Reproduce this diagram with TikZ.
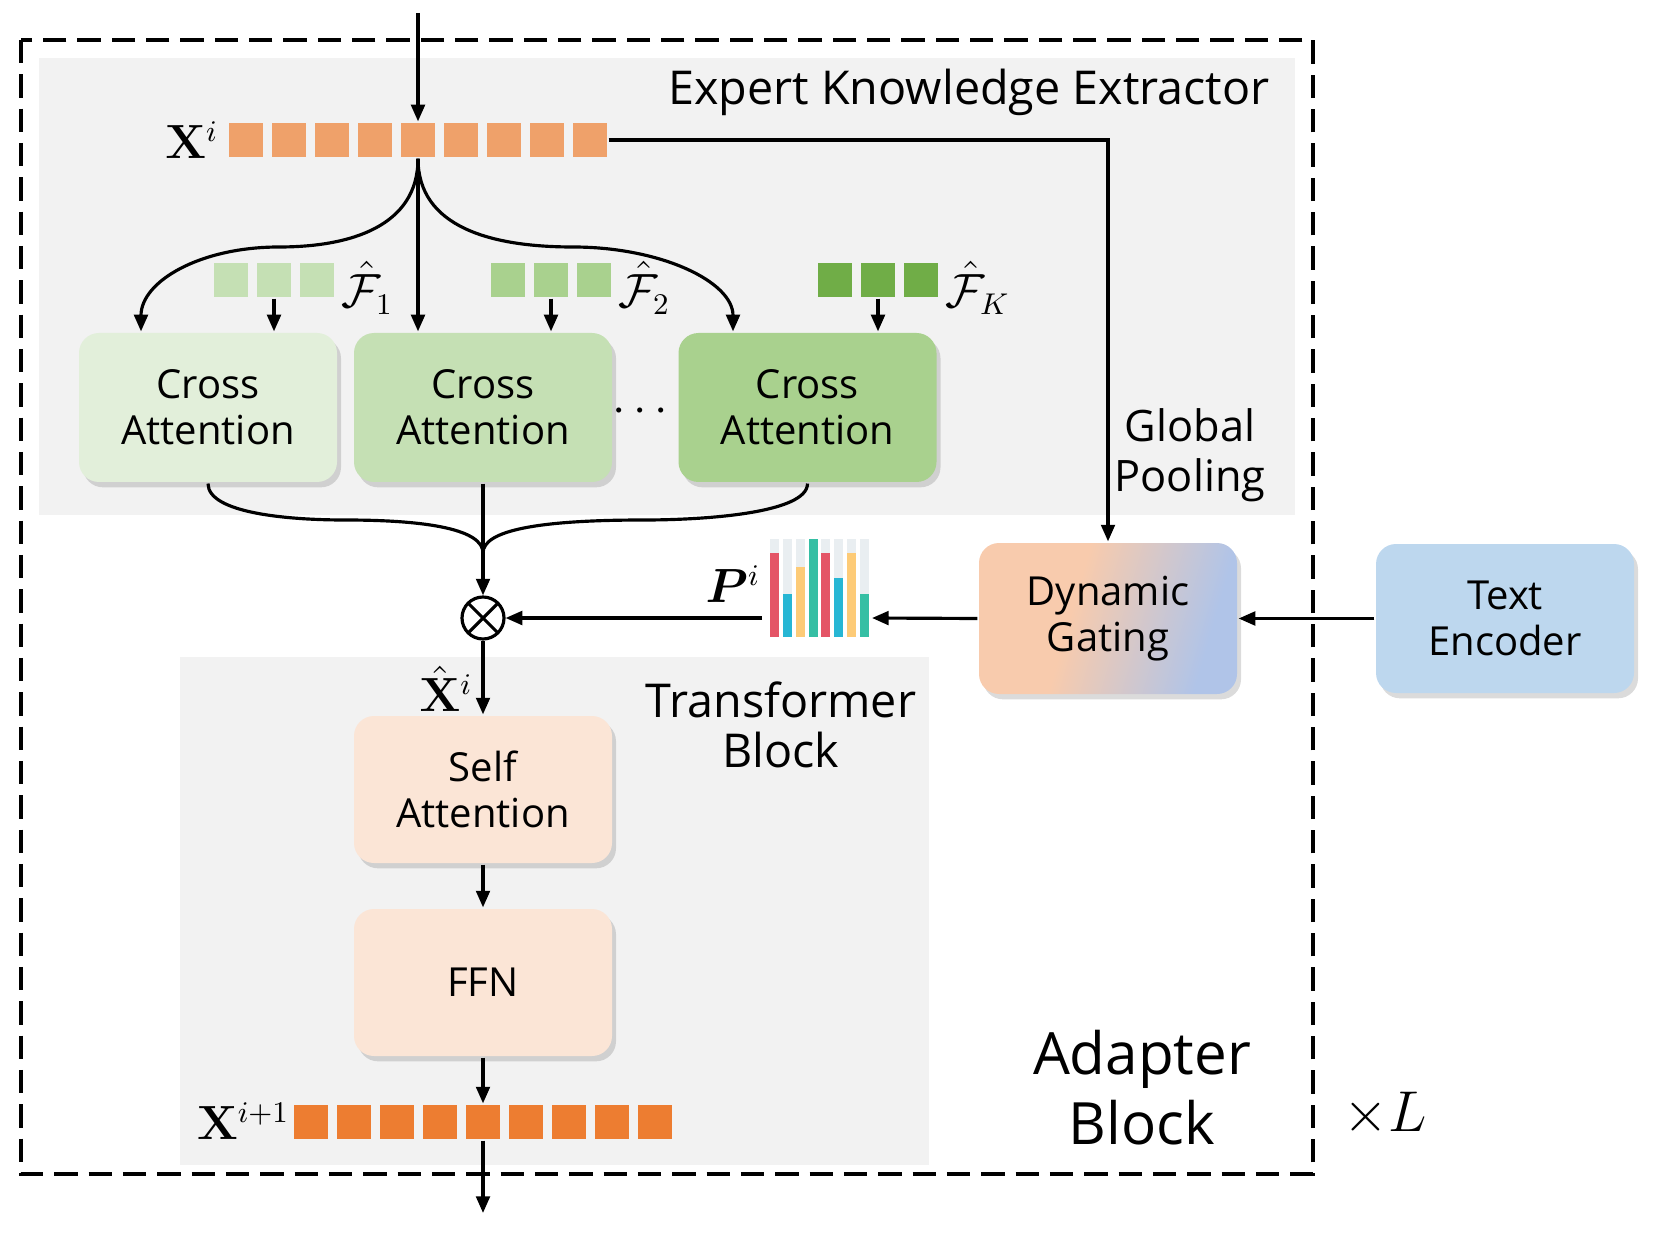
\documentclass[tikz,border=0pt]{standalone}
\usepackage[no-math]{fontspec}
\setmainfont{Open Sans}
\usepackage{amsmath,bm}
\usetikzlibrary{arrows.meta,shadows,calc}
\definecolor{bgg}{HTML}{F2F2F2}
\definecolor{caA}{HTML}{E2EFDA}
\definecolor{caB}{HTML}{C5E0B4}
\definecolor{caC}{HTML}{A9D18E}
\definecolor{fK}{HTML}{70AD47}
\definecolor{peach}{HTML}{FBE5D6}
\definecolor{teb}{HTML}{BDD7EE}
\definecolor{dgor}{HTML}{F8CBAD}
\definecolor{dgbl}{HTML}{B0C4E8}
\definecolor{xlt}{HTML}{EFA16A}
\definecolor{xdk}{HTML}{ED7D31}
\definecolor{bred}{HTML}{E45466}
\definecolor{bblu}{HTML}{27B6D4}
\definecolor{byel}{HTML}{FDCB77}
\definecolor{btea}{HTML}{35BFA4}
\definecolor{bgry}{HTML}{E9EEF1}
\pgfdeclarehorizontalshading{dgshade}{100bp}{color(0bp)=(dgor); color(42bp)=(dgor); color(72bp)=(dgbl); color(100bp)=(dgbl)}
\tikzset{
  arr/.style={-{Triangle[length=5pt,width=4.1pt]}},
  boxsty/.style={rounded corners=6pt, minimum width=77.4pt, minimum height=44.7pt, align=center, inner sep=0pt,
     font=\fontsize{12}{13.8}\selectfont,
     drop shadow={shadow xshift=1.2pt, shadow yshift=-1.6pt, opacity=0.2, fill=black!70}},
  sq/.style={minimum width=10.2pt, minimum height=10.2pt, inner sep=0pt, draw=none},
  lbl/.style={font=\fontsize{13}{15}\selectfont, align=center},
  mlbl/.style={font=\fontsize{13.5}{13.5}\selectfont, inner sep=0pt},
}
\begin{document}
\begin{tikzpicture}[x=0.3pt, y=-0.3pt, line width=0.95pt]
\useasboundingbox (0,0) rectangle (1661,1241);
% backgrounds
\fill[bgg] (39,58) rectangle (1295,515);
\fill[bgg] (180,657) rectangle (929,1165);
\draw[line width=1pt, dash pattern=on 7pt off 3.3pt] (21,40) rectangle (1313,1174);

% titles
\node[lbl, font=\fontsize{14}{15}\selectfont] (eke) at (969,92) {Expert Knowledge Extractor};
\node[lbl] (gp) at (1190,455) {Global\\Pooling};
\node[lbl, font=\fontsize{14}{15}\selectfont] (tb) at (781,725) {Transformer\\Block};
\node[font=\fontsize{17.5}{21}\selectfont, align=center] (ab) at (1142,1088) {Adapter\\Block};
\node[font=\fontsize{16}{16}\selectfont] (xl) at (1385,1114) {$\times L$};

% X^i row
\foreach \k in {0,...,8} \node[sq, fill=xlt] (x\k) at (246+43*\k,140) {};
\node[mlbl, anchor=east] (xil) at (220,140) {$\mathbf{X}^{i}$};
\coordinate (top) at (418,13);
\draw[arr] (top) -- (x4.north);

% cross attention boxes
\node[boxsty, fill=caA] (ca1) at (208,407.5) {Cross\\Attention};
\node[boxsty, fill=caB] (ca2) at (483,407.5) {Cross\\Attention};
\node[boxsty, fill=caC] (ca3) at (807.5,407.5) {Cross\\Attention};
\node[font=\fontsize{14}{14}\selectfont] (dots) at (644,412) {$\cdots$};

% feature squares
\foreach \k in {0,1,2} {
  \node[sq, fill=caB] (fa\k) at (231+43*\k,280) {};
  \node[sq, fill=caC] (fb\k) at (508+43*\k,280) {};
  \node[sq, fill=fK] (fc\k) at (835+43*\k,280) {};
}
\node[mlbl, anchor=west] (fal) at (340,288) {$\hat{\mathcal{F}}_1$};
\node[mlbl, anchor=west] (fbl) at (617,288) {$\hat{\mathcal{F}}_2$};
\node[mlbl, anchor=west] (fcl) at (944,288) {$\hat{\mathcal{F}}_K$};
\draw[arr] (fa1.south) -- (fa1.south |- ca1.north);
\draw[arr] (fb1.south) -- (fb1.south |- ca2.north);
\draw[arr] (fc1.south) -- (fc1.south |- ca3.north);

% X^i to cross attentions
\draw[arr] (x4.south) .. controls +(0,68) and (350,247) .. (279,247) .. controls (200,247) and ($(ca1.north)+(-67,-50)$) .. ($(ca1.north)+(-67,0)$);
\draw[arr] (x4.south) -- (x4.south |- ca2.north);
\draw[arr] (x4.south) .. controls +(0,68) and (490,247) .. (573,247) .. controls (660,247) and ($(ca3.north)+(-74.5,-50)$) .. ($(ca3.north)+(-74.5,0)$);

% gating and encoder
\node[boxsty, shading=dgshade, shading angle=-16, minimum height=45.3pt] (dg) at (1108,618.5) {Dynamic\\Gating};
\node[boxsty, fill=teb] (te) at (1505,618.5) {Text\\Encoder};
\draw[arr] (x8.east) -| (dg.north);

% otimes
\node[circle, draw, minimum size=12.6pt, inner sep=0pt, line width=0.95pt,
  path picture={\draw[line width=0.95pt] (path picture bounding box.south west) -- (path picture bounding box.north east)
  (path picture bounding box.north west) -- (path picture bounding box.south east);}] (ot) at (483,618) {};
\coordinate (jn) at (483,553);
\draw (ca1.south) .. controls +(0,30) and (290,520) .. (345,520) .. controls (430,520) and (483,530) .. (jn);
\draw (ca3.south) .. controls +(0,30) and (702,520) .. (644,520) .. controls (540,520) and (483,530) .. (jn);
\draw[arr] (ca2.south) -- (ot.north);

% bar chart
\foreach \i/\c/\t in {0/bred/553,1/bblu/594,2/byel/567,3/btea/539,4/bred/553,5/bblu/578,6/byel/553,7/btea/594} {
  \fill[bgry] (770+12.85*\i,539) rectangle ++(9,98);
  \fill[\c] (770+12.85*\i,\t) rectangle (779+12.85*\i,637);
}
\coordinate (chl) at (762,618);
\coordinate (chr) at (872,618);
\node[mlbl] (pl) at (733,584) {$\bm{P}^{i}$};
\draw[arr] (chl) -- (ot.east);
\draw[arr] (dg.west) -- (chr);
\draw[arr] (te.west) -- (dg.east);

% transformer block
\node[boxsty, fill=peach, minimum height=44.1pt] (sa) at (483,789.5) {Self\\Attention};
\node[boxsty, fill=peach, minimum height=44.1pt] (ffn) at (483,982.5) {FFN};
\node[mlbl] (xhl) at (446,689) {$\hat{\mathbf{X}}^{i}$};
\draw[arr] (ot.south) -- (sa.north);
\draw[arr] (sa.south) -- (ffn.north);

\foreach \k in {0,...,8} \node[sq, fill=xdk] (y\k) at (311+43*\k,1122) {};
\node[mlbl, anchor=east] (yl) at (291,1121) {$\mathbf{X}^{i+1}$};
\draw[arr] (ffn.south) -- (y4.north);
\coordinate (bot) at (483,1213);
\draw[arr] (y4.south) -- (bot);
\end{tikzpicture}
\end{document}
